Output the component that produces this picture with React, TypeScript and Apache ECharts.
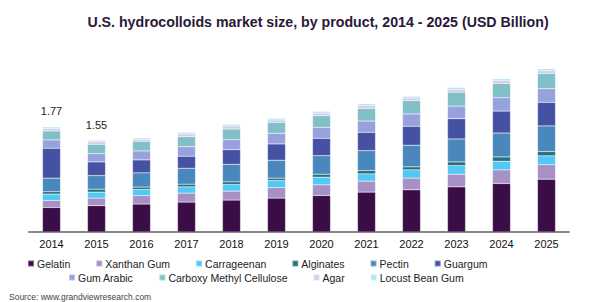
import React, { useEffect, useRef } from "react";
import * as echarts from "echarts";

const years = ["2014","2015","2016","2017","2018","2019","2020","2021","2022","2023","2024","2025"];
const seriesNames = ["Gelatin","Xanthan Gum","Carrageenan","Alginates","Pectin","Guargum","Gum Arabic","Carboxy Methyl Cellulose","Agar","Locust Bean Gum"];
const colors = ["#3a0d47","#a690c6","#52c8f4","#26707b","#4a87bd","#4551a2","#97a1dd","#80c0c6","#d7cbe5","#aee6f8"];

const gelatin     = [0.413,0.442,0.471,0.504,0.538,0.571,0.615,0.672,0.711,0.761,0.817,0.891];
const xanthan     = [0.118,0.129,0.140,0.151,0.151,0.178,0.180,0.185,0.197,0.213,0.230,0.242];
const carrageenan = [0.108,0.101,0.106,0.106,0.111,0.118,0.129,0.123,0.140,0.145,0.146,0.151];
const alginates   = [0.039,0.050,0.040,0.045,0.045,0.040,0.050,0.055,0.050,0.062,0.072,0.072];
const pectin      = [0.230,0.229,0.240,0.269,0.297,0.303,0.313,0.336,0.365,0.387,0.403,0.432];
const guargum     = [0.504,0.230,0.218,0.202,0.245,0.274,0.292,0.309,0.319,0.341,0.370,0.397];
const gumArabic   = [0.140,0.140,0.151,0.161,0.168,0.180,0.185,0.190,0.207,0.213,0.224,0.230];
const cmc         = [0.151,0.158,0.163,0.168,0.180,0.185,0.195,0.213,0.224,0.235,0.242,0.257];
const agar        = [0.039,0.044,0.034,0.045,0.050,0.039,0.045,0.044,0.045,0.045,0.044,0.045];
const locustBean  = [0.029,0.024,0.022,0.029,0.029,0.029,0.029,0.034,0.029,0.034,0.034,0.034];

const totalLabels = ["1.77","1.55","","","","","","","","","",""];

const allData = [gelatin, xanthan, carrageenan, alginates, pectin, guargum, gumArabic, cmc, agar, locustBean];

export default function App() {
  const ref = useRef<HTMLDivElement>(null);
  useEffect(() => {
    if (!ref.current) return;
    const chart = echarts.init(ref.current, null, { renderer: "svg" });
    const font = "Liberation Sans, Arial, sans-serif";
    const series = seriesNames.map((name, i) => ({
      name,
      type: "bar",
      stack: "total",
      barWidth: 18,
      itemStyle: { color: colors[i], borderColor: "rgba(255,255,255,0.35)", borderWidth: 0.5 },
      data: allData[i].map((v, j) => {
        if (i === seriesNames.length - 1 && totalLabels[j]) {
          return {
            value: v,
            label: {
              show: true,
              position: "top",
              distance: 10,
              formatter: () => totalLabels[j],
              color: "#222",
              fontSize: 11,
              fontFamily: font,
            },
          };
        }
        return v;
      }),
    }));
    const row1 = seriesNames.slice(0, 6);
    const row2 = seriesNames.slice(6);
    const legendCommon = {
      icon: "rect",
      itemWidth: 6,
      itemHeight: 6,
      itemGap: 25,
      textStyle: { fontSize: 10.5, color: "#222", fontFamily: font, padding: [0, 0, 0, -2] },
      selectedMode: false,
    };
    chart.setOption({
      animation: false,
      backgroundColor: "#ffffff",
      title: {
        text: "U.S. hydrocolloids market size, by product, 2014 - 2025 (USD Billion)",
        left: 313,
        textAlign: "center",
        top: 10,
        textStyle: { fontSize: 14.2, fontWeight: "bold", color: "#2a1838", fontFamily: font },
      },
      graphic: [
        {
          type: "text",
          left: 9,
          top: 292,
          style: { text: "Source: www.grandviewresearch.com", fontSize: 8.5, fill: "#444", fontFamily: font },
        },
      ],
      legend: [
        { ...legendCommon, data: row1, left: 22, top: 253 },
        { ...legendCommon, data: row2, left: 63, top: 267 },
      ],
      grid: { left: 29, right: 33, top: 54, bottom: 70 },
      xAxis: {
        type: "category",
        data: years,
        axisLine: { lineStyle: { color: "#888", width: 2 } },
        axisTick: { show: false },
        axisLabel: { color: "#111", fontSize: 11, fontFamily: font, margin: 6 },
      },
      yAxis: { type: "value", min: 0, max: 3, show: false, splitLine: { show: false } },
      series,
    });
    return () => chart.dispose();
  }, []);
  return <div ref={ref} style={{ position: "fixed", left: 0, top: 0, width: 602, height: 302 }} />;
}
